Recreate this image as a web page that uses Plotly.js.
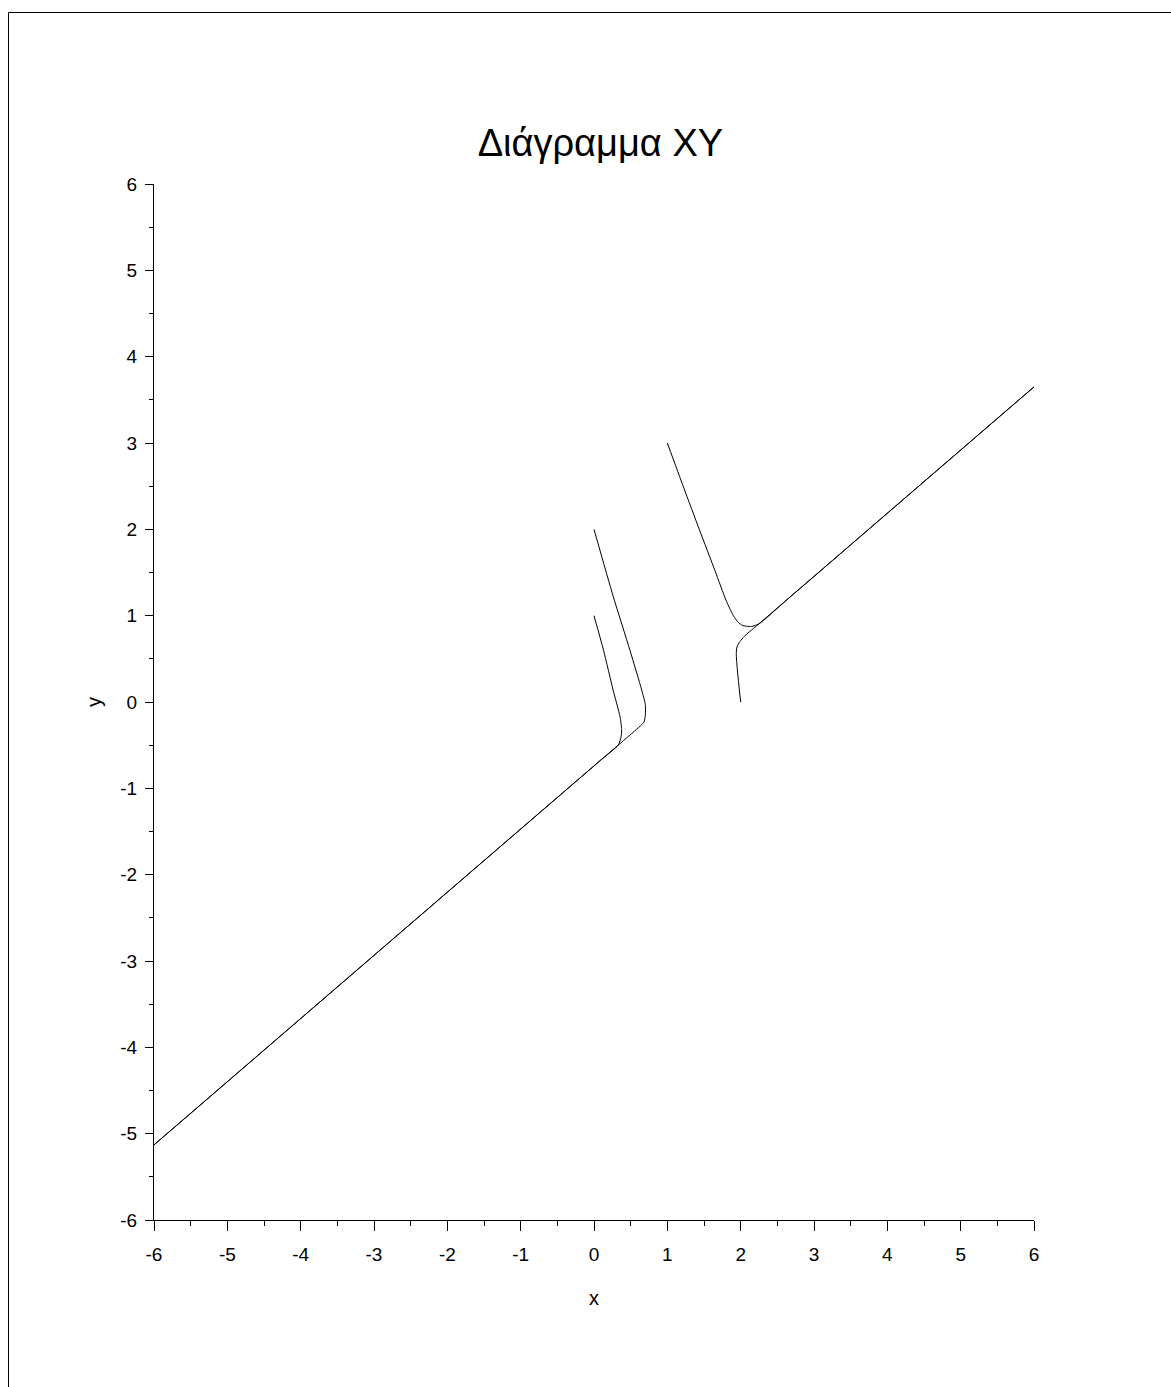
<!DOCTYPE html>
<html>
<head>
<meta charset="utf-8">
<script src="https://cdn.plot.ly/plotly-3.0.1.min.js"></script>
<style>html,body{margin:0;padding:0;background:#fff;}#chart{width:1171px;height:1387px;}</style>
</head>
<body>
<div id="chart"></div>
<script>
// Trajectories
const traj1X = [0, 0.13, 0.26, 0.355, 0.377, 0.37, 0.33, 0.1, -0.5, -6];
const traj1Y = [1, 0.60, 0.14, -0.17, -0.32, -0.40, -0.50, -0.667, -1.106, -5.13];
const traj2X = [0, 0.263, 0.49, 0.65, 0.70, 0.70, 0.68, 0.58, 0.2, -0.5, -6];
const traj2Y = [2, 1.22, 0.60, 0.14, -0.03, -0.15, -0.235, -0.316, -0.594, -1.106, -5.13];
const traj3X = [1, 1.22, 1.44, 1.65, 1.80, 1.90, 1.97, 2.03, 2.08, 2.15, 2.25, 2.6, 3.2, 6];
const traj3Y = [3, 2.49, 1.99, 1.52, 1.18, 1.00, 0.92, 0.885, 0.878, 0.875, 0.905, 1.162, 1.601, 3.65];
const traj4X = [2, 1.955, 1.94, 1.95, 1.99, 2.05, 2.10, 2.2, 2.6, 3.2, 6];
const traj4Y = [0, 0.37, 0.56, 0.64, 0.70, 0.76, 0.80, 0.87, 1.162, 1.601, 3.65];
const tickVals = [-6, -5, -4, -3, -2, -1, 0, 1, 2, 3, 4, 5, 6];
const tickText = ['-6', '-5', '-4', '-3', '-2', '-1', '0', '1', '2', '3', '4', '5', '6'];

const lineStyle = {color: '#000000', width: 1, shape: 'spline', smoothing: 0.6};
const data = [
  {x: traj1X, y: traj1Y, mode: 'lines', line: lineStyle, showlegend: false, hoverinfo: 'skip'},
  {x: traj2X, y: traj2Y, mode: 'lines', line: lineStyle, showlegend: false, hoverinfo: 'skip'},
  {x: traj3X, y: traj3Y, mode: 'lines', line: lineStyle, showlegend: false, hoverinfo: 'skip'},
  {x: traj4X, y: traj4Y, mode: 'lines', line: lineStyle, showlegend: false, hoverinfo: 'skip'}
];

const W = 1171, H = 1387, L = 154, R = 137, T = 184, B = 167;
const pw = W - L - R, ph = H - T - B;
const px = p => (p - L) / pw;
const py = p => (H - B - p) / ph;

const font = {family: '"Liberation Sans", Arial, sans-serif', color: '#000000'};
const axisCommon = {
  range: [-6, 6], autorange: false, showgrid: false, zeroline: false,
  showline: true, linecolor: '#000000', linewidth: 1, mirror: false,
  ticks: 'outside', tickcolor: '#000000', tickwidth: 1,
  tickmode: 'array', tickvals: tickVals, ticktext: tickText,
  tickfont: Object.assign({size: 19}, font),
  fixedrange: true
};

const layout = {
  width: W, height: H,
  margin: {l: L, r: R, t: T, b: B, pad: 0},
  paper_bgcolor: '#ffffff', plot_bgcolor: '#ffffff',
  font: font,
  title: {text: 'Διάγραμμα XY', font: Object.assign({size: 38}, font),
          x: 594 / W, xanchor: 'center', y: 1 - 143 / H, yanchor: 'middle', xref: 'paper', yref: 'container'},
  xaxis: Object.assign({}, axisCommon, {
    ticklen: 10, ticklabelstandoff: 7,
    minor: {dtick: 0.5, tick0: 0, ticks: 'outside', ticklen: 5, tickcolor: '#000000', tickwidth: 1, showgrid: false},
    title: {text: 'x', font: Object.assign({size: 20}, font), standoff: 27}
  }),
  yaxis: Object.assign({}, axisCommon, {
    ticklen: 8, ticklabelstandoff: 4,
    minor: {dtick: 0.5, tick0: 0, ticks: 'outside', ticklen: 4, tickcolor: '#000000', tickwidth: 1, showgrid: false},
    title: {text: 'y', font: Object.assign({size: 20}, font), standoff: 13}
  }),
  shapes: [
    {type: 'line', xref: 'paper', yref: 'paper', x0: px(8.5), x1: px(8.5), y0: py(12.5), y1: py(1400), line: {color: '#000000', width: 1}},
    {type: 'line', xref: 'paper', yref: 'paper', x0: px(8.5), x1: px(1200), y0: py(12.5), y1: py(12.5), line: {color: '#000000', width: 1}}
  ]
};

Plotly.newPlot('chart', data, layout, {displayModeBar: false, staticPlot: true});
</script>
</body>
</html>
